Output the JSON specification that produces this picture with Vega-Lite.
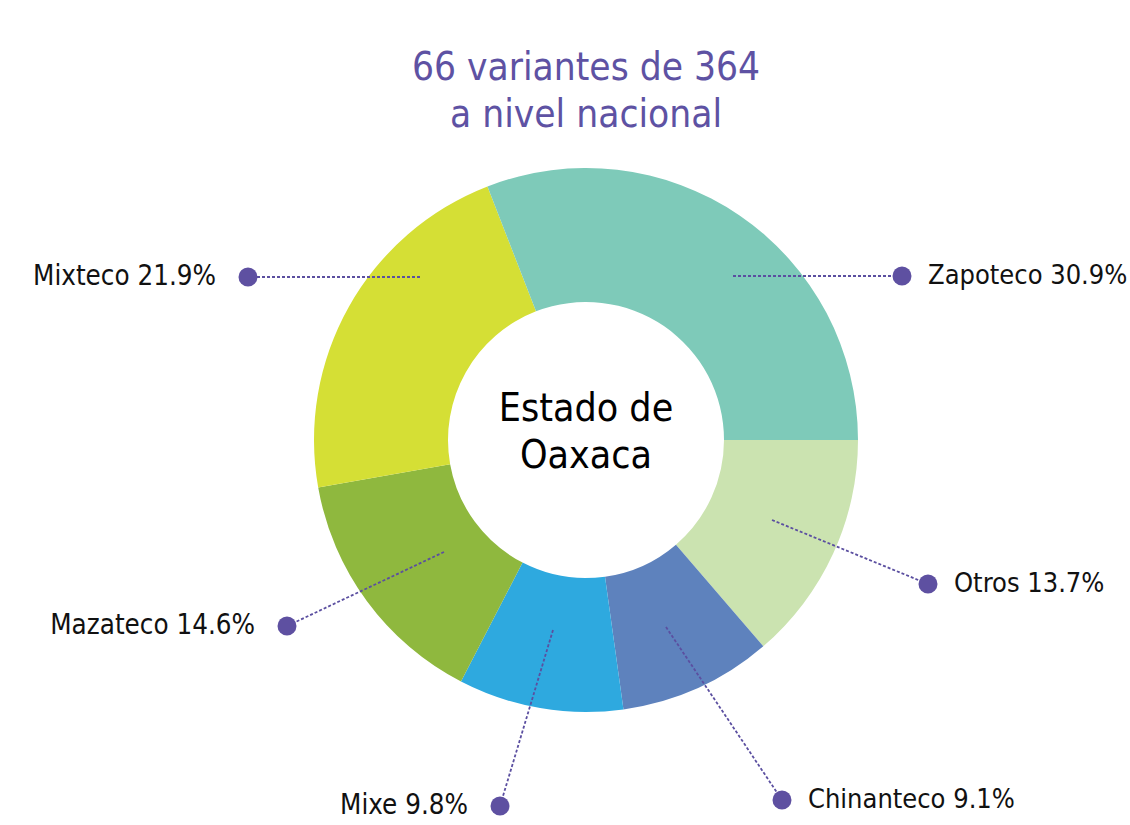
{
  "$schema": "https://vega.github.io/schema/vega-lite/v6.json",
  "width": 1088,
  "height": 770,
  "autosize": {"type": "none"},
  "padding": {"left": 42, "top": 55, "right": 0, "bottom": 0},
  "background": "white",
  "config": {"view": {"stroke": null}},
  "datasets": {
    "slices": [
      {"idioma": "Otros", "pct": 13.7, "orden": 1},
      {"idioma": "Chinanteco", "pct": 9.1, "orden": 2},
      {"idioma": "Mixe", "pct": 9.8, "orden": 3},
      {"idioma": "Mazateco", "pct": 14.6, "orden": 4},
      {"idioma": "Mixteco", "pct": 21.9, "orden": 5},
      {"idioma": "Zapoteco", "pct": 30.9, "orden": 6}
    ],
    "labels": [
      {"label": "Zapoteco 30.9%", "side": "right", "x0": 147, "y0": 164, "x1": 316, "y1": 164},
      {"label": "Mixteco 21.9%", "side": "left", "x0": -166, "y0": 163, "x1": -338, "y1": 163},
      {"label": "Mazateco 14.6%", "side": "left", "x0": -142, "y0": -112, "x1": -299, "y1": -186},
      {"label": "Mixe 9.8%", "side": "left", "x0": -33, "y0": -190, "x1": -86, "y1": -366},
      {"label": "Chinanteco 9.1%", "side": "right", "x0": 80, "y0": -187, "x1": 196, "y1": -360},
      {"label": "Otros 13.7%", "side": "right", "x0": 186, "y0": -80, "x1": 342, "y1": -144}
    ],
    "titulo": [
      {"texto": "66 variantes de 364", "x": 0, "y": 360},
      {"texto": "a nivel nacional", "x": 0, "y": 313}
    ],
    "centro": [
      {"texto": "Estado de", "x": 0, "y": 19},
      {"texto": "Oaxaca", "x": 0, "y": -28}
    ]
  },
  "layer": [
    {
      "data": {"name": "slices"},
      "mark": {"type": "arc", "outerRadius": 272, "innerRadius": 138},
      "encoding": {
        "theta": {"field": "pct", "type": "quantitative", "stack": true, "scale": {"range": [1.5707963, 7.8539816]}},
        "order": {"field": "orden", "type": "quantitative"},
        "color": {
          "field": "idioma", "type": "nominal", "legend": null,
          "scale": {
            "domain": ["Otros", "Chinanteco", "Mixe", "Mazateco", "Mixteco", "Zapoteco"],
            "range": ["#CBE3B0", "#5E82BD", "#2EA9DF", "#8FB83E", "#D5DF35", "#7ECAB9"]
          }
        }
      }
    },
    {
      "data": {"name": "labels"},
      "mark": {"type": "rule", "color": "#5B4FA0", "strokeWidth": 1.8, "strokeDash": [3, 2]},
      "encoding": {
        "x": {"field": "x0", "type": "quantitative", "scale": {"domain": [-544, 544], "nice": false, "zero": false}, "axis": null},
        "y": {"field": "y0", "type": "quantitative", "scale": {"domain": [-385, 385], "nice": false, "zero": false}, "axis": null},
        "x2": {"field": "x1"},
        "y2": {"field": "y1"}
      }
    },
    {
      "data": {"name": "labels"},
      "mark": {"type": "point", "shape": "circle", "filled": true, "size": 360, "color": "#5E50A1", "opacity": 1},
      "encoding": {
        "x": {"field": "x1", "type": "quantitative"},
        "y": {"field": "y1", "type": "quantitative"}
      }
    },
    {
      "data": {"name": "labels"},
      "transform": [{"filter": "datum.side == 'right'"}],
      "mark": {"type": "text", "align": "left", "baseline": "middle", "dx": 26, "font": "DejaVu Sans Condensed, sans-serif", "fontSize": 27, "color": "#111111"},
      "encoding": {
        "x": {"field": "x1", "type": "quantitative"},
        "y": {"field": "y1", "type": "quantitative"},
        "text": {"field": "label"}
      }
    },
    {
      "data": {"name": "labels"},
      "transform": [{"filter": "datum.side == 'left'"}],
      "mark": {"type": "text", "align": "right", "baseline": "middle", "dx": -32, "font": "DejaVu Sans Condensed, sans-serif", "fontSize": 27.5, "color": "#111111"},
      "encoding": {
        "x": {"field": "x1", "type": "quantitative"},
        "y": {"field": "y1", "type": "quantitative"},
        "text": {"field": "label"}
      }
    },
    {
      "data": {"name": "titulo"},
      "mark": {"type": "text", "align": "center", "baseline": "alphabetic", "font": "DejaVu Sans Condensed, sans-serif", "fontSize": 38.5, "color": "#5E52A3"},
      "encoding": {
        "x": {"field": "x", "type": "quantitative"},
        "y": {"field": "y", "type": "quantitative"},
        "text": {"field": "texto"}
      }
    },
    {
      "data": {"name": "centro"},
      "mark": {"type": "text", "align": "center", "baseline": "alphabetic", "font": "DejaVu Sans Condensed, sans-serif", "fontSize": 39, "color": "#000000"},
      "encoding": {
        "x": {"field": "x", "type": "quantitative"},
        "y": {"field": "y", "type": "quantitative"},
        "text": {"field": "texto"}
      }
    }
  ]
}
